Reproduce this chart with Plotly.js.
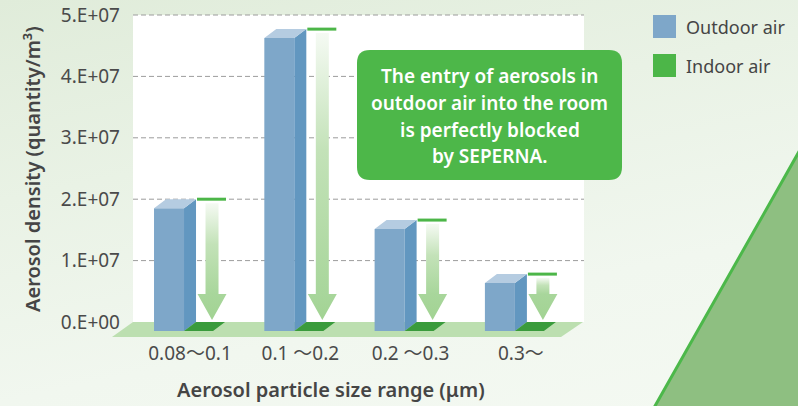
<!DOCTYPE html>
<html><head><meta charset="utf-8">
<script src="https://cdn.plot.ly/plotly-3.0.1.min.js"></script>
<style>
html,body{margin:0;padding:0;}
body{width:798px;height:406px;overflow:hidden;background:linear-gradient(168deg,#e0ecda 0%,#e9f2e5 35%,#f1f7ef 70%,#f4f9f2 100%);}
#chart{width:798px;height:406px;}
</style></head><body><div id="chart"></div>
<script>
// ---- data ----
const categories = ['0.08～0.1', '0.1 ～0.2', '0.2 ～0.3', '0.3～'];
const outdoorAir = [2.0e7, 4.77e7, 1.66e7, 0.78e7];
const indoorAir = [0, 0, 0, 0];
const yTickVals = [0, 1e7, 2e7, 3e7, 4e7, 5e7];
const yTickText = ['0.E+00', '1.E+07', '2.E+07', '3.E+07', '4.E+07', '5.E+07'];
const seriesNames = ['Outdoor air', 'Indoor air'];
const boxLines = ['The entry of aerosols in', 'outdoor air into the room', 'is perfectly blocked', 'by SEPERNA.'];
const xTitle = 'Aerosol particle size range (μm)';
const yTitle = 'Aerosol density (quantity/m³)';

// ---- geometry / style ----
const W = 798, H = 406, M = {l: 133, r: 214, t: 10, b: 69};
const PW = W - M.l - M.r, PH = H - M.t - M.b;
const XR = [-0.517, 3.572];
const YR = [-2.443e6, 5.0814e7];
const xpu = PW / (XR[1] - XR[0]);
const ypu = PH / (YR[1] - YR[0]);
const dxu = px => px / xpu;
const dyu = px => px / ypu;
const paperX = px => (px - M.l) / PW;
const paperY = py => 1 - (py - M.t) / PH;

const OUT_OFF = dxu(-36), OUT_W = dxu(30);
const IN_OFF = dxu(-6), IN_W = dxu(29);
const DX = dxu(12), DY = dyu(9);
const FONT = 'Noto Sans, Noto Sans CJK JP, sans-serif';
const TXT = '#454545';
const C_OUT = '#7ea7c9', C_OUT_SIDE = '#6297c0', C_OUT_TOP = '#b5cce1';
const C_IN = '#4cb648', C_IN_SIDE = '#3f9f40', C_IN_TOP = '#3a9b3c';

const idx = categories.map((_, i) => i);

function boxFaces(vals, off, w) {
  const side = {x: [], y: []}, top = {x: [], y: []};
  vals.forEach((v, i) => {
    const xl = i + off, xr = i + off + w;
    side.x.push(xr, xr + DX, xr + DX, xr, null);
    side.y.push(-DY, 0, v, v - DY, null);
    top.x.push(xl, xr, xr + DX, xl + DX, null);
    top.y.push(v - DY, v - DY, v, v, null);
  });
  return {side, top};
}
const outF = boxFaces(outdoorAir, OUT_OFF, OUT_W);
const inF = boxFaces(indoorAir, IN_OFF, IN_W);

const traces = [];
traces.push({type: 'bar', name: seriesNames[0], x: idx, y: outdoorAir, base: outdoorAir.map(() => -DY),
  offset: OUT_OFF, width: OUT_W, marker: {color: C_OUT, line: {width: 0}}, showlegend: false,
  hovertemplate: '%{y:.2e}<extra>' + seriesNames[0] + '</extra>'});
traces.push({type: 'scatter', mode: 'none', x: outF.side.x, y: outF.side.y, fill: 'toself', fillcolor: C_OUT_SIDE, hoverinfo: 'skip', showlegend: false});
traces.push({type: 'scatter', mode: 'none', x: outF.top.x, y: outF.top.y, fill: 'toself', fillcolor: C_OUT_TOP, hoverinfo: 'skip', showlegend: false});
traces.push({type: 'bar', name: seriesNames[1], x: idx, y: indoorAir, base: indoorAir.map(() => -DY),
  offset: IN_OFF, width: IN_W, marker: {color: C_IN, line: {width: 0}}, showlegend: false,
  hovertemplate: '%{y:.2e}<extra>' + seriesNames[1] + '</extra>'});
traces.push({type: 'scatter', mode: 'none', x: inF.side.x, y: inF.side.y, fill: 'toself', fillcolor: C_IN_SIDE, hoverinfo: 'skip', showlegend: false});
traces.push({type: 'scatter', mode: 'none', x: inF.top.x, y: inF.top.y, fill: 'toself', fillcolor: C_IN_TOP, hoverinfo: 'skip', showlegend: false});

// arrows from the outdoor level down to the indoor level
outdoorAir.forEach((v, i) => {
  const cx = i + IN_OFF + IN_W / 2 + DX + dxu(1.5);
  const sw = dxu(6.5), hw = dxu(14.5);
  const top = v - dyu(4), headTop = indoorAir[i] + dyu(28), tip = indoorAir[i] + dyu(2);
  const f = (headTop - tip) / (top - tip);
  traces.push({type: 'scatter', mode: 'none', fill: 'toself', hoverinfo: 'skip', showlegend: false,
    x: [cx - sw, cx + sw, cx + sw, cx + hw, cx, cx - hw, cx - sw],
    y: [top, top, headTop, headTop, tip, headTop, headTop],
    fillcolor: '#a6d598',
    fillgradient: {type: 'vertical', colorscale: [[0, '#a2d393'], [f, '#a8d69b'], [f + (1 - f) * 0.55, '#c3e2b8'], [1, '#f5faf3']]}
  });
});
// outdoor level marker lines
const lvl = {x: [], y: []};
outdoorAir.forEach((v, i) => {
  lvl.x.push(i + IN_OFF + DX + dxu(1), i + IN_OFF + IN_W + DX + dxu(1), null);
  lvl.y.push(v, v, null);
});
traces.push({type: 'scatter', mode: 'lines', x: lvl.x, y: lvl.y, line: {color: C_IN, width: 3}, hoverinfo: 'skip', showlegend: false});

// ---- decorations ----
function rrect(x0, y0, x1, y1, r) {
  const X = paperX, Y = paperY;
  return `M${X(x0 + r)},${Y(y0)} L${X(x1 - r)},${Y(y0)} Q${X(x1)},${Y(y0)} ${X(x1)},${Y(y0 + r)} ` +
    `L${X(x1)},${Y(y1 - r)} Q${X(x1)},${Y(y1)} ${X(x1 - r)},${Y(y1)} L${X(x0 + r)},${Y(y1)} ` +
    `Q${X(x0)},${Y(y1)} ${X(x0)},${Y(y1 - r)} L${X(x0)},${Y(y0 + r)} Q${X(x0)},${Y(y0)} ${X(x0 + r)},${Y(y0)} Z`;
}
const shapes = [];
// diagonal decoration
shapes.push({type: 'path', xref: 'paper', yref: 'paper', layer: 'below',
  path: `M${paperX(803.3)},${paperY(144)} L${paperX(651.6)},${paperY(412)} L${paperX(815)},${paperY(412)} L${paperX(815)},${paperY(144)} Z`,
  fillcolor: '#8ebf81', line: {color: '#4cb84a', width: 3}});
// white plot area
shapes.push({type: 'rect', xref: 'paper', yref: 'y', x0: 0, x1: 1, y0: 0, y1: yTickVals[yTickVals.length - 1],
  fillcolor: '#ffffff', line: {width: 0}, layer: 'below'});
// grid lines
yTickVals.slice(1).forEach(v => shapes.push({type: 'line', xref: 'paper', yref: 'y', x0: 0, x1: 1, y0: v, y1: v,
  line: {color: '#9c9c9c', width: 1, dash: '5px,3px'}, layer: 'below'}));
// floor
shapes.push({type: 'path', xref: 'paper', yref: 'y', layer: 'below',
  path: `M${paperX(133)},0 L${paperX(583)},0 L${paperX(561)},${-dyu(15)} L${paperX(112)},${-dyu(15)} Z`,
  fillcolor: '#bcdfb0', line: {width: 0}});
// message box
shapes.push({type: 'path', xref: 'paper', yref: 'paper', layer: 'above', path: rrect(357, 50, 622, 180, 13),
  fillcolor: '#4db749', line: {width: 0}});
// legend swatches
shapes.push({type: 'rect', xref: 'paper', yref: 'paper', layer: 'above', x0: paperX(653), x1: paperX(676), y0: paperY(15), y1: paperY(38), fillcolor: C_OUT, line: {width: 0}});
shapes.push({type: 'rect', xref: 'paper', yref: 'paper', layer: 'above', x0: paperX(653), x1: paperX(676), y0: paperY(54), y1: paperY(77), fillcolor: C_IN, line: {width: 0}});

const annotations = [];
const boxY = [76, 103, 129.5, 156];
boxLines.forEach((t, k) => annotations.push({xref: 'paper', yref: 'paper', x: paperX(489.5), y: paperY(boxY[k]),
  text: t, showarrow: false, xanchor: 'center', yanchor: 'middle', font: {family: FONT, size: 19, color: '#ffffff', weight: 600}}));
annotations.push({xref: 'paper', yref: 'paper', x: paperX(684), y: paperY(27), text: seriesNames[0], showarrow: false,
  xanchor: 'left', yanchor: 'middle', font: {family: FONT, size: 18, color: TXT}});
annotations.push({xref: 'paper', yref: 'paper', x: paperX(684), y: paperY(66), text: seriesNames[1], showarrow: false,
  xanchor: 'left', yanchor: 'middle', font: {family: FONT, size: 18, color: TXT}});
annotations.push({xref: 'paper', yref: 'paper', x: paperX(32), y: paperY(169), text: yTitle, textangle: -90, showarrow: false,
  xanchor: 'center', yanchor: 'middle', font: {family: FONT, size: 20, color: TXT, weight: 600}});
annotations.push({xref: 'paper', yref: 'paper', x: paperX(331), y: paperY(389), text: xTitle, showarrow: false,
  xanchor: 'center', yanchor: 'middle', font: {family: FONT, size: 20, color: TXT, weight: 600}});

const layout = {
  width: W, height: H, margin: M,
  paper_bgcolor: 'rgba(0,0,0,0)', plot_bgcolor: 'rgba(0,0,0,0)',
  showlegend: false, barmode: 'overlay',
  font: {family: FONT, color: TXT},
  xaxis: {range: XR, tickmode: 'array', tickvals: idx, ticktext: categories, showgrid: false, zeroline: false,
    showline: false, ticks: '', tickfont: {family: FONT, size: 19, color: '#4a4a4a'}, ticklabelstandoff: 3, fixedrange: true},
  yaxis: {range: YR, tickmode: 'array', tickvals: yTickVals, ticktext: yTickText, showgrid: false, zeroline: false,
    showline: false, ticks: '', tickfont: {family: FONT, size: 19, color: '#4a4a4a'}, ticklabelstandoff: 12, fixedrange: true},
  shapes, annotations
};
Plotly.newPlot('chart', traces, layout, {displayModeBar: false, staticPlot: true});
</script></body></html>
